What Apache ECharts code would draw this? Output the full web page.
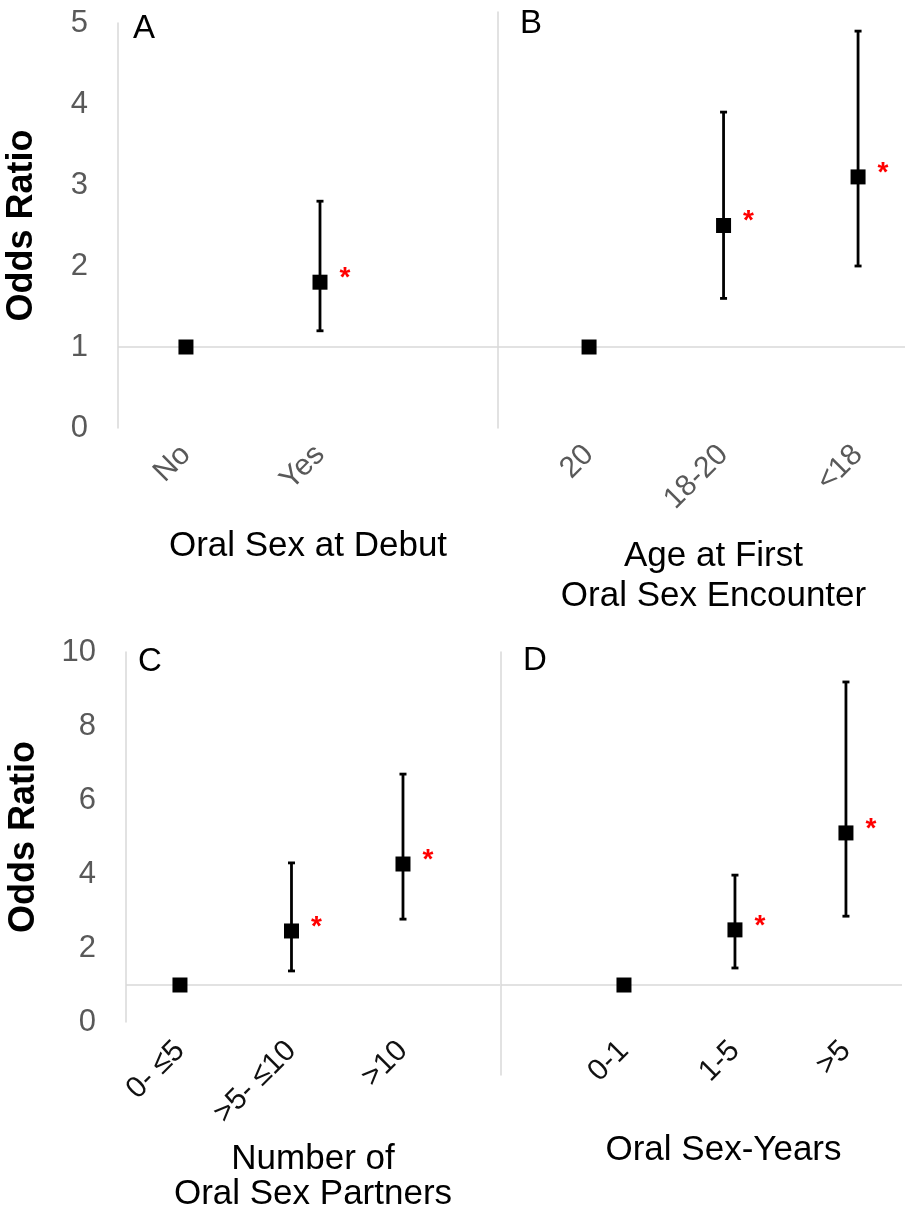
<!DOCTYPE html>
<html>
<head>
<meta charset="utf-8">
<script src="https://cdn.jsdelivr.net/npm/echarts@6/dist/echarts.min.js"></script>
<style>
  html, body { margin: 0; padding: 0; background: #fff; }
  #chart { width: 913px; height: 1215px; }
</style>
</head>
<body>
<div id="chart"></div>
<script>
// panel A - oral sex at debut
const catsA = ['No', 'Yes'];
const orA = [1, 1.8];
const loA = [null, 1.2];
const hiA = [null, 2.8];
const sigA = [false, true];

// panel B - age at first oral sex encounter
const catsB = ['20', '18-20', '<18'];
const orB = [1, 2.5, 3.1];
const loB = [null, 1.6, 2.0];
const hiB = [null, 3.9, 4.9];
const sigB = [false, true, true];

// panel C - number of oral sex partners
const catsC = ['0- \u22645', '>5- \u226410', '>10'];
const orC = [1, 2.46, 4.27];
const loC = [null, 1.38, 2.78];
const hiC = [null, 4.3, 6.7];
const sigC = [false, true, true];

// panel D - oral sex-years
const catsD = ['0-1', '1-5', '>5'];
const orD = [1, 2.49, 5.11];
const loD = [null, 1.46, 2.86];
const hiD = [null, 3.97, 9.19];
const sigD = [false, true, true];

const yTicksTop = [0, 1, 2, 3, 4, 5];
const yTicksBottom = [0, 2, 4, 6, 8, 10];

const FONT = '"Liberation Sans", Arial, sans-serif';
const AXIS_GREY = '#d9d9d9';
const LABEL_GREY = '#595959';

let panels = [
  { letter: 'A', cats: catsA, or: orA, lo: loA, hi: hiA, sig: sigA,
    grid: { left: 118, top: 23, width: 380, height: 405 },
    xMin: -0.507, xMax: 2.328, yMin: 0, yMax: 5, ticks: yTicksTop, yLabels: true, yNameGap: 78,
    xName: 'Oral Sex at Debut', nameGap: 98, nameLH: 40, namePad: 0, xOffset: 0,
    catColor: LABEL_GREY, catMargin: 22, letterPos: [133, 12] },
  { letter: 'B', cats: catsB, or: orB, lo: loB, hi: hiB, sig: sigB,
    grid: { left: 498, top: 12, width: 407, height: 416 },
    xMin: -0.677, xMax: 2.349, yMin: 0, yMax: 5.136, ticks: null, yLabels: false,
    xName: 'Age at First\nOral Sex Encounter', nameGap: 108, nameLH: 40, namePad: 24, xOffset: 0,
    catColor: LABEL_GREY, catMargin: 22, letterPos: [520, 7] },
  { letter: 'C', cats: catsC, or: orC, lo: loC, hi: hiC, sig: sigC,
    grid: { left: 126, top: 652, width: 374, height: 370 },
    xMin: -0.484, xMax: 2.870, yMin: 0, yMax: 10, ticks: yTicksBottom, yLabels: true, yNameGap: 84,
    xName: 'Number of\nOral Sex Partners', nameGap: 120, nameLH: 35, namePad: 0, xOffset: 0,
    catColor: '#111', catMargin: 24, letterPos: [138, 645] },
  { letter: 'D', cats: catsD, or: orD, lo: loD, hi: hiD, sig: sigD,
    grid: { left: 501, top: 652, width: 401, height: 423 },
    xMin: -1.108, xMax: 2.505, yMin: -1.432, yMax: 10, ticks: null, yLabels: false,
    xName: 'Oral Sex-Years', nameGap: 108, nameLH: 40, namePad: 44, xOffset: -53,
    catColor: '#111', catMargin: 24, letterPos: [523, 644] }
];

function renderErr(params, api) {
  let x = api.value(0);
  let p1 = api.coord([x, api.value(1)]);
  let p2 = api.coord([x, api.value(2)]);
  let cap = 3.5;
  let st = { stroke: '#000', lineWidth: 2.8 };
  return {
    type: 'group',
    children: [
      { type: 'line', shape: { x1: p1[0], y1: p1[1], x2: p2[0], y2: p2[1] }, style: st },
      { type: 'line', shape: { x1: p1[0] - cap, y1: p1[1], x2: p1[0] + cap, y2: p1[1] }, style: st },
      { type: 'line', shape: { x1: p2[0] - cap, y1: p2[1], x2: p2[0] + cap, y2: p2[1] }, style: st }
    ]
  };
}

let grids = [], xAxes = [], yAxes = [], series = [], titles = [];

panels.forEach(function (p, i) {
  grids.push(Object.assign({ outerBoundsMode: 'none', containLabel: false }, p.grid));
  titles.push({
    text: p.letter, left: p.letterPos[0], top: p.letterPos[1], padding: 0,
    textStyle: { fontFamily: FONT, fontSize: 33, fontWeight: 'normal', color: '#000' }
  });
  let cats = p.cats;
  xAxes.push({
    type: 'value', gridIndex: i, min: p.xMin, max: p.xMax, offset: p.xOffset,
    axisLine: { show: false }, axisTick: { show: false }, splitLine: { show: false },
    axisLabel: {
      customValues: cats.map(function (c, k) { return k; }),
      formatter: function (v) { return cats[Math.round(v)]; },
      rotate: 45, margin: p.catMargin, fontFamily: FONT, fontSize: 30, color: p.catColor
    },
    name: p.xName, nameLocation: 'middle', nameGap: p.nameGap,
    nameTextStyle: {
      fontFamily: FONT, fontSize: 35, color: '#000', verticalAlign: 'top',
      lineHeight: p.nameLH, padding: [0, 0, 0, p.namePad]
    }
  });
  let y = {
    type: 'value', gridIndex: i, min: p.yMin, max: p.yMax,
    axisLine: { show: true, onZero: false, lineStyle: { color: AXIS_GREY, width: 1.5 } },
    axisTick: { show: false }, splitLine: { show: false },
    axisLabel: { show: p.yLabels, margin: 30, fontFamily: FONT, fontSize: 31, color: LABEL_GREY }
  };
  if (p.ticks) {
    y.interval = p.ticks[1] - p.ticks[0];
    y.name = 'Odds Ratio';
    y.nameLocation = 'middle';
    y.nameGap = p.yNameGap;
    y.nameTextStyle = { fontFamily: FONT, fontSize: 36, fontWeight: 'bold', color: '#000' };
  }
  yAxes.push(y);

  let pts = p.or.map(function (v, k) { return [k, v]; });
  let bars = [];
  p.lo.forEach(function (lo, k) {
    if (lo != null) bars.push([k, lo, p.hi[k]]);
  });
  let sig = p.sig;

  // reference line at OR = 1 sits underneath everything
  series.push({
    type: 'custom', xAxisIndex: i, yAxisIndex: i, renderItem: renderErr,
    data: bars, z: 2, silent: true,
    markLine: {
      silent: true, symbol: 'none', label: { show: false }, z: 1,
      lineStyle: { color: AXIS_GREY, width: 1.5, type: 'solid' },
      data: [{ yAxis: 1 }]
    }
  });
  series.push({
    type: 'scatter', xAxisIndex: i, yAxisIndex: i, data: pts, z: 5,
    symbol: 'rect', symbolSize: 15, itemStyle: { color: '#000', opacity: 1 },
    label: {
      show: true, position: 'right', distance: 12, offset: [0, -4],
      formatter: function (prm) { return sig[prm.dataIndex] ? '*' : ''; },
      fontFamily: FONT, fontSize: 28, fontWeight: 'bold', color: '#ff0000'
    }
  });
});

let chart = echarts.init(document.getElementById('chart'), null, { renderer: 'canvas' });
chart.setOption({
  backgroundColor: '#fff',
  animation: false,
  title: titles,
  grid: grids,
  xAxis: xAxes,
  yAxis: yAxes,
  series: series
});
</script>
</body>
</html>
